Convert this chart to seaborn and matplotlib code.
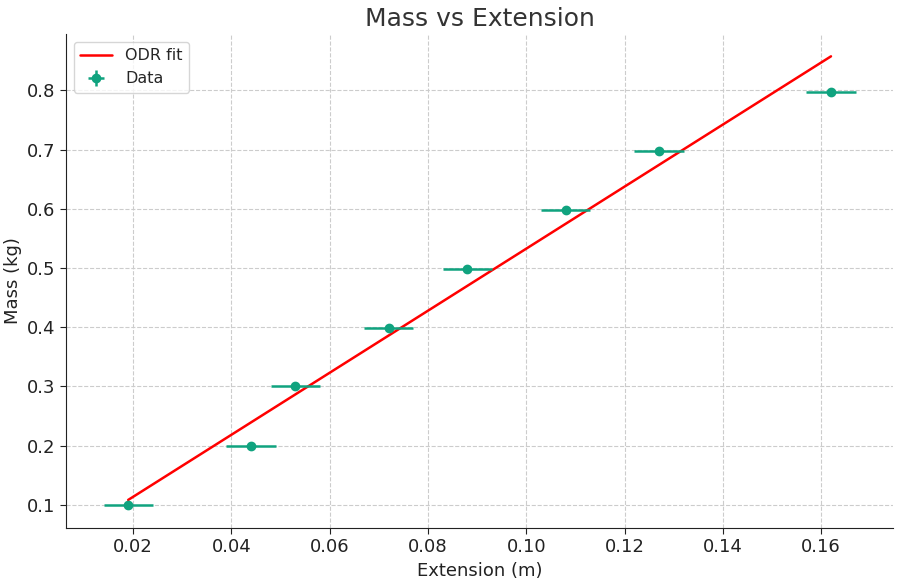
import matplotlib
matplotlib.use("Agg")
import matplotlib.pyplot as plt
import numpy as np
import pandas as pd
import seaborn as sns

extension = [0.019, 0.044, 0.053, 0.072, 0.088, 0.108, 0.127, 0.162]
mass = [0.100, 0.200, 0.300, 0.399, 0.499, 0.598, 0.697, 0.797]
ext_err = [0.005] * 8
mass_err = [0.001] * 8

# ODR fit parameters (estimated from the line)
fit_slope = 5.24
fit_intercept = 0.0088

sns.set_style("whitegrid", {"grid.linestyle": "--", "grid.color": "#cccccc",
                            "axes.edgecolor": "#222222"})
plt.rcParams["font.family"] = ["DejaVu Sans"]

fit_x = np.array([extension[0], extension[-1]])
df_fit = pd.DataFrame({"x": fit_x, "y": fit_slope * fit_x + fit_intercept})

fig, ax = plt.subplots(figsize=(9.04, 5.84), dpi=100)
sns.lineplot(data=df_fit, x="x", y="y", color="red", linewidth=1.8, label="ODR fit", ax=ax)
ax.errorbar(extension, mass, xerr=ext_err, yerr=mass_err, fmt="o", color="#10a37f",
            markersize=6, elinewidth=1.8, capsize=0, label="Data")

sns.despine(ax=ax)
ax.set_title("Mass vs Extension", fontsize=18, color="#333333")
ax.set_xlabel("Extension (m)", fontsize=13, color="#222222")
ax.set_ylabel("Mass (kg)", fontsize=13, color="#222222")
ax.tick_params(axis="both", labelsize=13, colors="#222222", length=4, bottom=True, left=True)
ax.set_xticks([0.02, 0.04, 0.06, 0.08, 0.10, 0.12, 0.14, 0.16])
ax.set_xticklabels(["0.02", "0.04", "0.06", "0.08", "0.10", "0.12", "0.14", "0.16"])
ax.legend(loc="upper left", fontsize=11.5, frameon=True)

fig.subplots_adjust(left=0.073, right=0.988, top=0.942, bottom=0.096)
fig.savefig("out.png", dpi=100)
